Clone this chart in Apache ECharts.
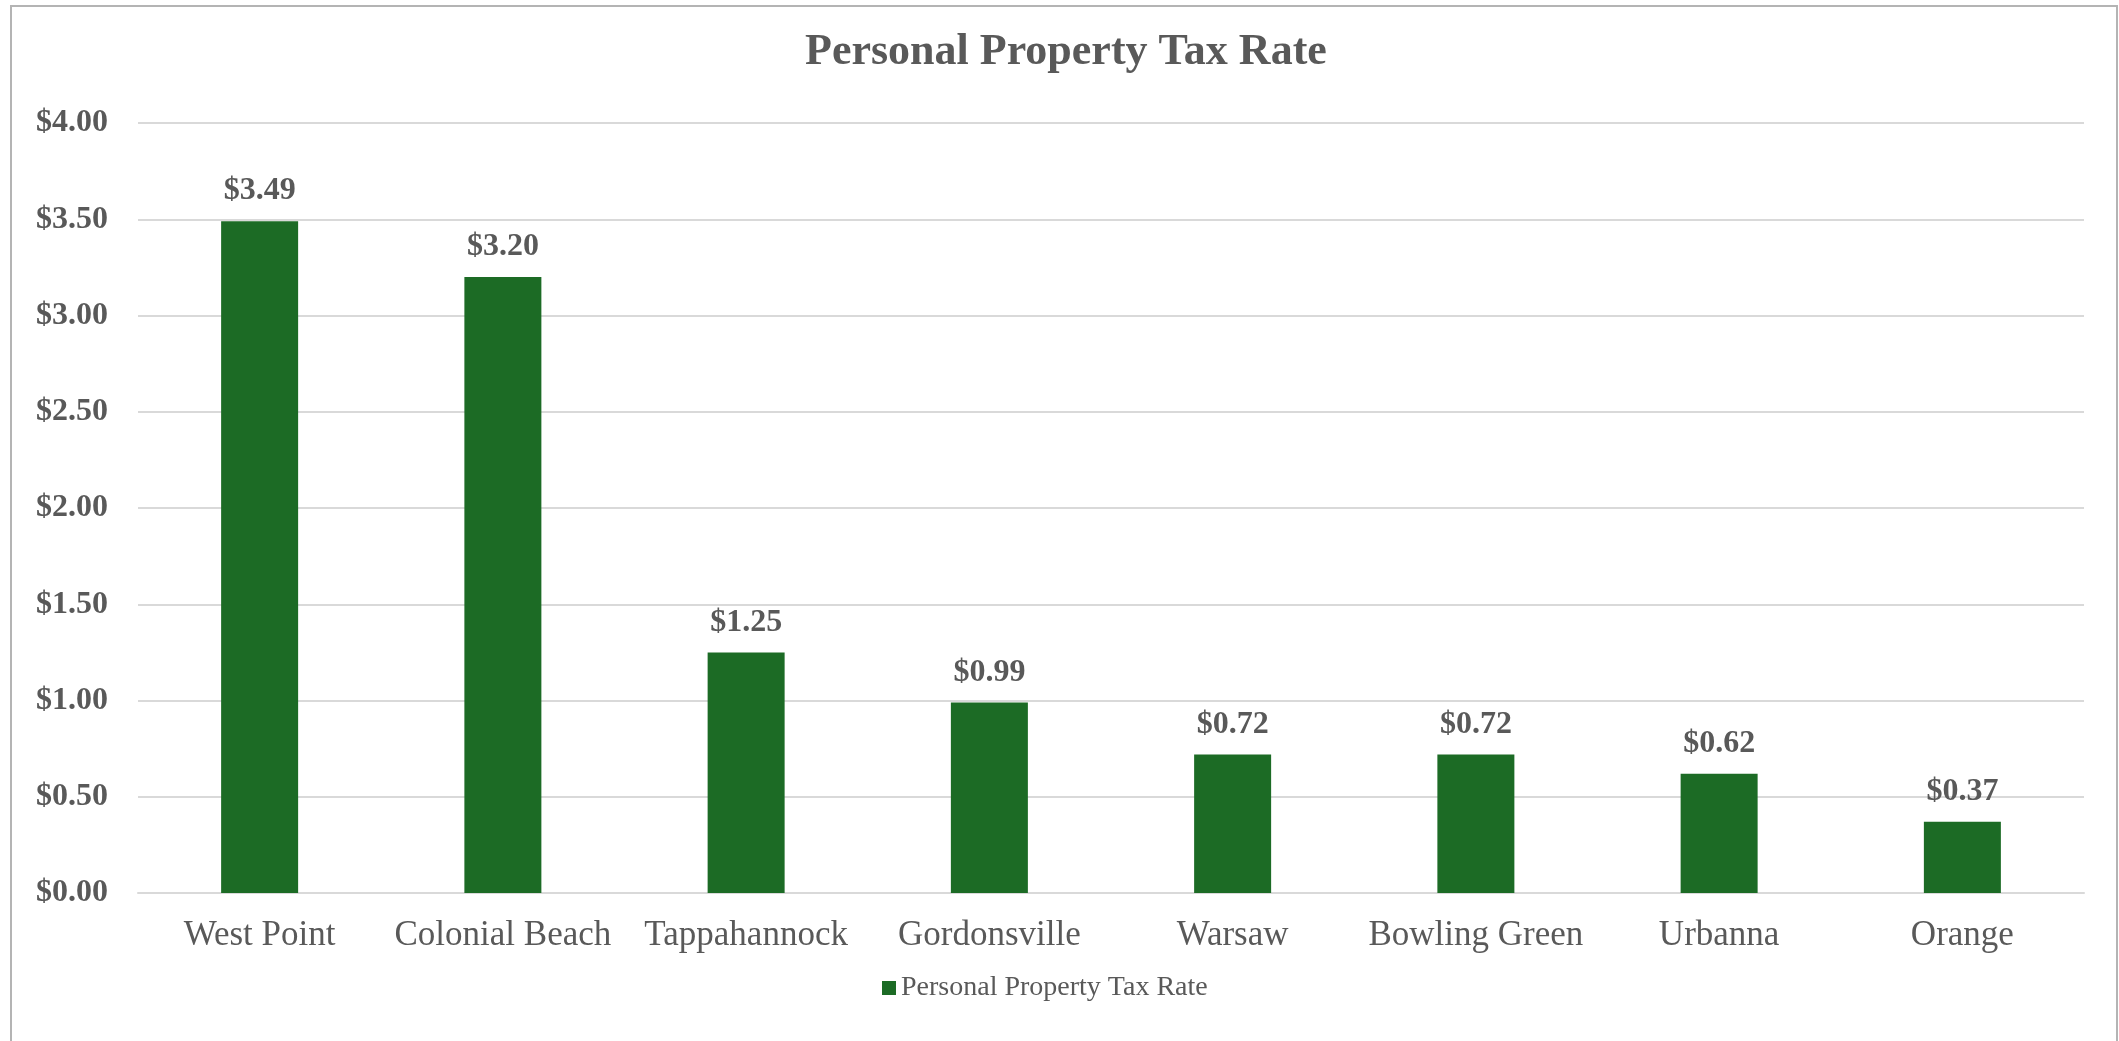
<!DOCTYPE html>
<html>
<head>
<meta charset="utf-8">
<title>Personal Property Tax Rate</title>
<script src="https://cdn.jsdelivr.net/npm/echarts@6/dist/echarts.min.js"></script>
<style>
  html, body { margin: 0; padding: 0; background: #fff; }
  #main { width: 2119px; height: 1041px; }
</style>
</head>
<body>
<div id="main"></div>
<script>
var dom = document.getElementById("main");
var myChart = echarts.init(dom);

// chart data
var categories = ['West Point', 'Colonial Beach', 'Tappahannock', 'Gordonsville', 'Warsaw', 'Bowling Green', 'Urbanna', 'Orange'];
var rates = [3.49, 3.20, 1.25, 0.99, 0.72, 0.72, 0.62, 0.37];
var seriesName = 'Personal Property Tax Rate';

var textColor = '#595959';
var fontFamily = '"Liberation Serif", "DejaVu Serif", serif';

function money(v) {
    return '$' + Number(v).toFixed(2);
}

var option = {
    backgroundColor: '#fff',
    animation: false,
    title: {
        text: 'Personal Property Tax Rate',
        left: 800,
        top: 26,
        textStyle: {
            color: textColor,
            fontFamily: fontFamily,
            fontSize: 44,
            fontWeight: 'bold'
        }
    },
    graphic: [{
        type: 'rect',
        shape: { x: 11, y: 6, width: 2106, height: 1100 },
        style: { fill: 'none', stroke: '#b4b4b4', lineWidth: 2 },
        silent: true
    }],
    legend: {
        bottom: 34,
        left: 877,
        itemWidth: 14,
        itemHeight: 14,
        icon: 'rect',
        itemGap: 6,
        textStyle: {
            color: textColor,
            fontFamily: fontFamily,
            fontSize: 28
        },
        data: [seriesName]
    },
    grid: {
        left: 138,
        right: 35,
        top: 123,
        bottom: 148
    },
    xAxis: {
        type: 'category',
        data: categories,
        axisTick: { show: false },
        axisLine: { lineStyle: { color: '#d9d9d9', width: 2 } },
        axisLabel: {
            interval: 0,
            color: textColor,
            fontFamily: fontFamily,
            fontSize: 35,
            margin: 25
        }
    },
    yAxis: {
        type: 'value',
        min: 0,
        max: 4,
        interval: 0.5,
        axisLine: { show: false },
        axisTick: { show: false },
        splitLine: { lineStyle: { color: '#d9d9d9', width: 2 } },
        axisLabel: {
            color: textColor,
            fontFamily: fontFamily,
            fontSize: 32,
            fontWeight: 'bold',
            margin: 30,
            formatter: money
        }
    },
    series: [{
        name: seriesName,
        type: 'bar',
        data: rates,
        barWidth: 77,
        itemStyle: { color: '#1c6b25' },
        label: {
            show: true,
            position: 'top',
            distance: 14,
            color: textColor,
            fontFamily: fontFamily,
            fontSize: 32,
            fontWeight: 'bold',
            formatter: function (p) { return money(p.value); }
        }
    }]
};

myChart.setOption(option, true);
window.addEventListener("resize", function () {
    myChart.resize();
});
</script>
</body>
</html>
